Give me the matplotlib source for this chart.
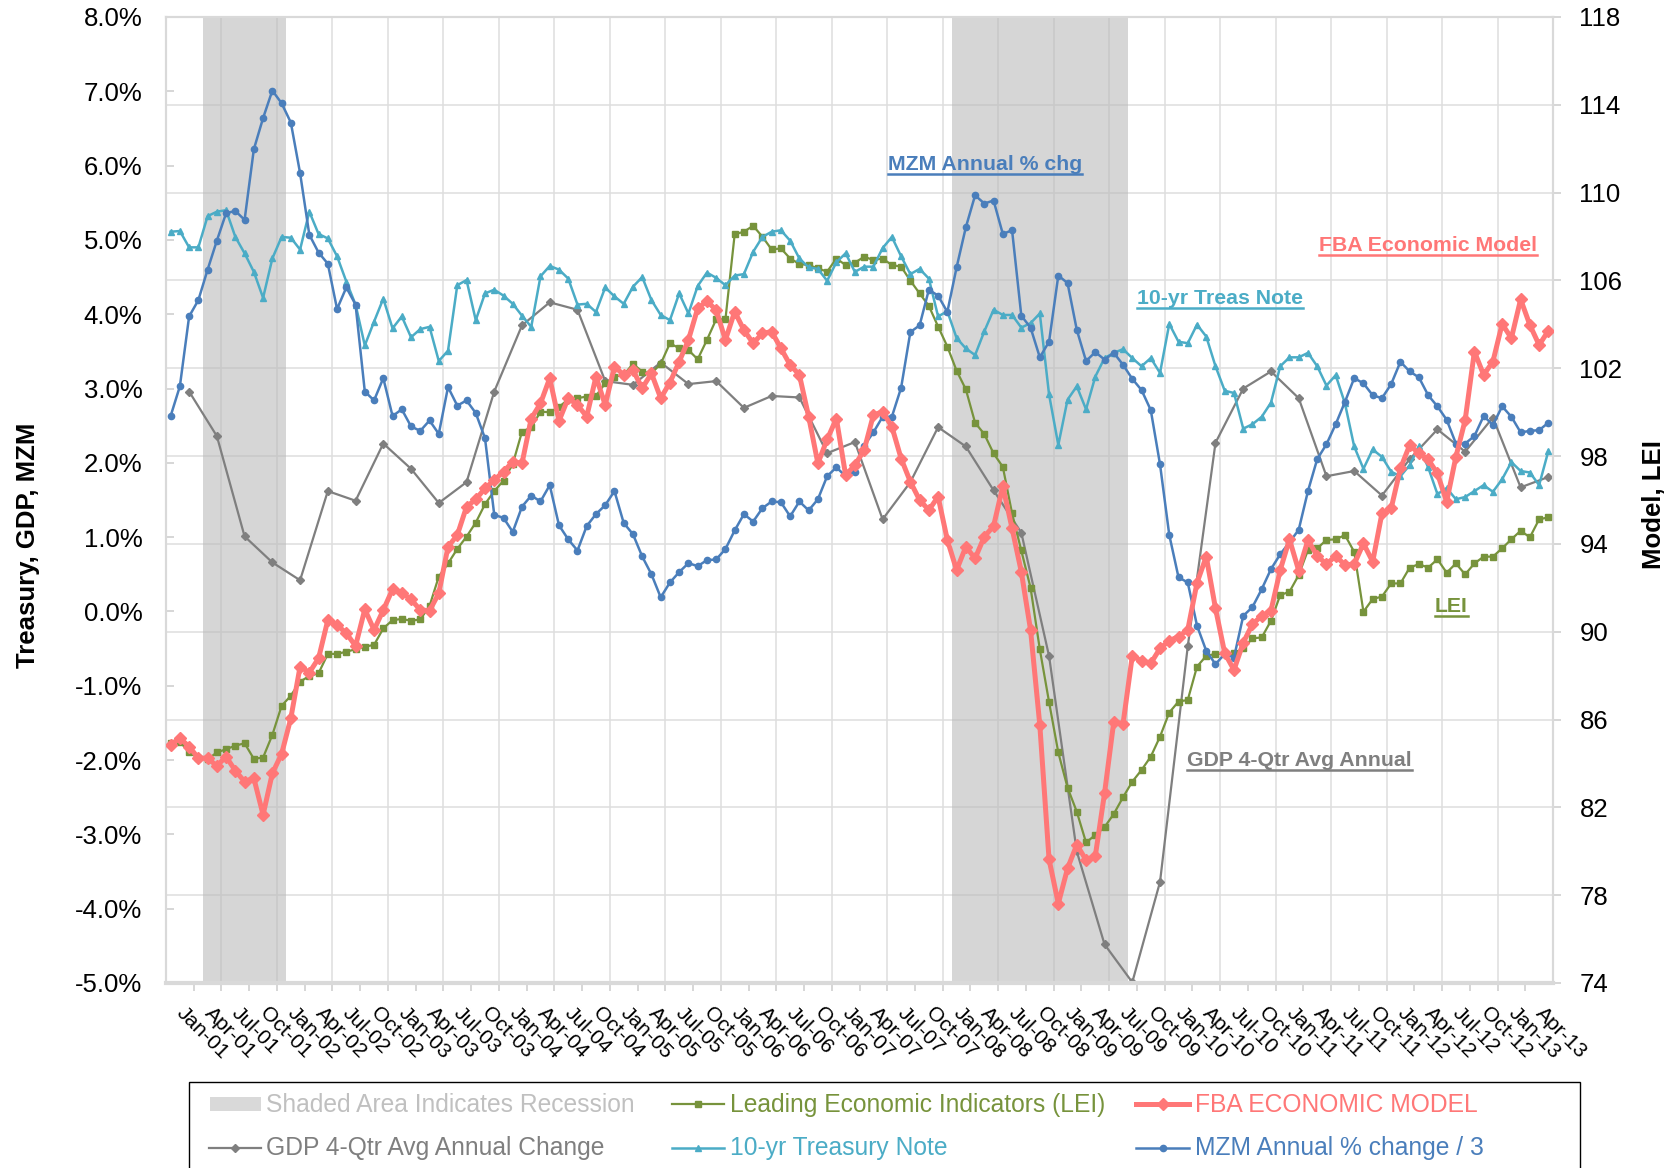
"""
 FBA economic model vs. LEI, GDP, 10-yr treasury and MZM (monthly, Dec-00 .. May-13)
"""
import numpy as np
import pandas as pd
import matplotlib
matplotlib.use("Agg")
import matplotlib.pyplot as plt
from matplotlib.lines import Line2D
from matplotlib.patches import Rectangle
from matplotlib.ticker import FormatStrFormatter

plt.rcParams['font.family'] = ['Liberation Sans', 'DejaVu Sans']
plt.rcParams['axes.unicode_minus'] = False

# monthly categories of the chart
months = pd.date_range("2000-12-01", periods=150, freq="MS").strftime("%b-%y").tolist()

# shaded recession months (first, last) as drawn on the chart
recessions = [("Apr-01", "Dec-01"), ("Jan-08", "Jul-09")]

# left axis (%)
mzm = [
    2.63, 3.03, 3.97, 4.19, 4.60, 4.99, 5.36, 5.39, 5.27, 6.22,
    6.64, 7.01, 6.84, 6.58, 5.90, 5.07, 4.83, 4.68, 4.07, 4.36,
    4.13, 2.96, 2.84, 3.14, 2.63, 2.72, 2.49, 2.43, 2.57, 2.39,
    3.02, 2.77, 2.84, 2.67, 2.33, 1.30, 1.26, 1.07, 1.41, 1.56,
    1.48, 1.70, 1.16, 0.97, 0.82, 1.15, 1.31, 1.43, 1.62, 1.19,
    1.04, 0.74, 0.50, 0.19, 0.39, 0.53, 0.65, 0.61, 0.69, 0.70,
    0.84, 1.09, 1.31, 1.21, 1.39, 1.48, 1.47, 1.28, 1.48, 1.36,
    1.51, 1.82, 1.94, 1.82, 1.88, 2.23, 2.41, 2.62, 2.62, 3.01,
    3.76, 3.85, 4.33, 4.25, 4.03, 4.63, 5.17, 5.60, 5.49, 5.53,
    5.08, 5.13, 3.98, 3.82, 3.42, 3.63, 4.52, 4.42, 3.79, 3.37,
    3.49, 3.39, 3.48, 3.32, 3.13, 2.98, 2.71, 1.98, 1.03, 0.46,
    0.39, -0.19, -0.53, -0.71, -0.57, -0.62, -0.06, 0.06, 0.30, 0.57,
    0.77, 0.93, 1.10, 1.62, 2.05, 2.25, 2.52, 2.82, 3.14, 3.07,
    2.91, 2.87, 3.06, 3.36, 3.23, 3.15, 2.91, 2.76, 2.58, 2.26,
    2.26, 2.36, 2.63, 2.51, 2.76, 2.62, 2.41, 2.43, 2.44, 2.54,
]

treas10 = [
    5.11, 5.12, 4.90, 4.90, 5.32, 5.38, 5.40, 5.04, 4.82, 4.57,
    4.22, 4.75, 5.04, 5.03, 4.87, 5.38, 5.08, 5.02, 4.78, 4.44,
    4.13, 3.58, 3.90, 4.21, 3.81, 3.97, 3.69, 3.80, 3.83, 3.37,
    3.51, 4.39, 4.46, 3.92, 4.28, 4.33, 4.25, 4.14, 3.98, 3.83,
    4.51, 4.65, 4.60, 4.48, 4.13, 4.14, 4.03, 4.36, 4.24, 4.14,
    4.37, 4.50, 4.19, 3.99, 3.92, 4.28, 4.01, 4.38, 4.56, 4.49,
    4.39, 4.52, 4.54, 4.84, 5.04, 5.11, 5.13, 4.99, 4.75, 4.63,
    4.61, 4.45, 4.70, 4.82, 4.57, 4.64, 4.64, 4.89, 5.04, 4.78,
    4.54, 4.61, 4.48, 3.97, 4.04, 3.68, 3.54, 3.45, 3.77, 4.06,
    3.99, 3.99, 3.82, 3.88, 4.01, 2.92, 2.24, 2.85, 3.03, 2.72,
    3.16, 3.41, 3.48, 3.53, 3.41, 3.30, 3.41, 3.21, 3.87, 3.63,
    3.61, 3.86, 3.70, 3.30, 2.97, 2.94, 2.46, 2.52, 2.62, 2.81,
    3.30, 3.42, 3.42, 3.48, 3.30, 3.04, 3.18, 2.80, 2.22, 1.92,
    2.18, 2.08, 1.88, 1.82, 1.97, 2.22, 1.94, 1.58, 1.66, 1.51,
    1.54, 1.62, 1.70, 1.61, 1.78, 2.01, 1.89, 1.87, 1.70, 2.16,
]

# GDP is quarterly (Feb, May, Aug, Nov)
gdp_months = months[2::3]
gdp = [
    2.96, 2.36, 1.01, 0.66, 0.42, 1.62, 1.49, 2.26, 1.92, 1.46,
    1.74, 2.96, 3.85, 4.16, 4.06, 3.10, 3.05, 3.35, 3.06, 3.10,
    2.74, 2.90, 2.88, 2.13, 2.28, 1.24, 1.74, 2.48, 2.22, 1.63,
    1.06, -0.60, -3.23, -4.48, -4.99, -3.64, -0.47, 2.27, 3.00, 3.23,
    2.87, 1.82, 1.89, 1.56, 2.05, 2.45, 2.15, 2.61, 1.67, 1.81,
]

# right axis (index)
lei = [
    84.92, 85.00, 84.50, 84.24, 84.19, 84.50, 84.65, 84.81, 84.92, 84.21,
    84.27, 85.30, 86.62, 87.09, 87.73, 87.98, 88.11, 88.99, 88.99, 89.09,
    89.20, 89.32, 89.40, 90.15, 90.53, 90.58, 90.50, 90.56, 91.17, 92.51,
    93.11, 93.77, 94.33, 94.97, 95.81, 96.41, 96.88, 97.64, 99.11, 99.31,
    100.02, 100.00, 100.23, 100.59, 100.64, 100.71, 100.74, 101.32, 101.62, 101.70,
    102.20, 101.85, 101.77, 102.20, 103.14, 102.91, 102.83, 102.41, 103.29, 104.23,
    104.23, 108.10, 108.22, 108.49, 107.99, 107.41, 107.46, 107.00, 106.75, 106.70,
    106.55, 106.40, 107.00, 106.70, 106.81, 107.08, 106.93, 107.00, 106.70, 106.63,
    105.99, 105.41, 104.84, 103.90, 102.99, 101.89, 101.04, 99.52, 99.00, 98.12,
    97.51, 95.39, 93.70, 92.00, 89.20, 86.80, 84.50, 82.90, 81.80, 80.40,
    80.74, 81.10, 81.70, 82.46, 83.17, 83.70, 84.31, 85.22, 86.32, 86.82,
    86.89, 88.41, 88.90, 88.99, 88.99, 89.02, 89.24, 89.70, 89.74, 90.50,
    91.67, 91.82, 92.58, 93.72, 93.80, 94.18, 94.21, 94.40, 93.64, 90.91,
    91.49, 91.60, 92.20, 92.20, 92.92, 93.08, 92.92, 93.30, 92.69, 93.11,
    92.61, 93.11, 93.42, 93.42, 93.80, 94.21, 94.60, 94.30, 95.12, 95.21,
]

fba = [
    84.84, 85.15, 84.77, 84.24, 84.24, 83.89, 84.31, 83.67, 83.17, 83.33,
    81.66, 83.55, 84.43, 86.06, 88.41, 88.14, 88.79, 90.53, 90.31, 89.93,
    89.35, 91.02, 90.08, 90.99, 91.93, 91.78, 91.47, 90.99, 90.96, 91.75,
    93.87, 94.40, 95.69, 96.03, 96.53, 96.91, 97.29, 97.74, 97.67, 99.71,
    100.40, 101.55, 99.60, 100.64, 100.33, 99.80, 101.62, 100.33, 102.08, 101.70,
    101.92, 101.09, 101.77, 100.64, 101.35, 102.30, 103.29, 104.73, 105.06, 104.65,
    103.29, 104.58, 103.74, 103.14, 103.59, 103.67, 102.91, 102.15, 101.70, 99.80,
    97.67, 98.76, 99.71, 97.13, 97.59, 98.27, 99.87, 100.02, 99.34, 97.89,
    96.83, 96.00, 95.54, 96.15, 94.18, 92.81, 93.87, 93.34, 94.33, 94.81,
    96.63, 94.71, 92.73, 90.08, 85.75, 79.63, 77.62, 79.22, 80.30, 79.60,
    79.78, 82.64, 85.91, 85.80, 88.90, 88.68, 88.56, 89.24, 89.59, 89.78,
    90.08, 92.23, 93.42, 91.06, 89.02, 88.26, 89.50, 90.35, 90.72, 90.96,
    92.81, 94.21, 92.78, 94.18, 93.45, 93.08, 93.45, 93.04, 93.08, 94.02,
    93.19, 95.39, 95.62, 97.44, 98.50, 98.12, 97.85, 97.21, 95.92, 97.97,
    99.64, 102.76, 101.70, 102.30, 104.02, 103.37, 105.14, 103.97, 103.06, 103.71,
]

BLUE = '#4a7ebb'
CYAN = '#4bacc6'
GREEN = '#77933c'
GREY = '#7f7f7f'
RED = '#ff7777'
GRID = '#dedede'
AXIS = '#d9d9d9'

W, H = 1676, 1168
fig = plt.figure(figsize=(W / 100, H / 100), dpi=100)
ax = fig.add_axes([166 / W, 1 - 983 / H, 1387 / W, 966 / H])
ax2 = ax.twinx()
ax.set_zorder(ax2.get_zorder() + 1)
ax.patch.set_visible(False)

x = np.arange(len(months))

# background: gridlines and recession shading live on the right axis
for b in range(6, len(months), 6):
    ax2.axvline(b - 0.5, color=GRID, lw=1.1, zorder=0.5)
ax2.set_yticks(np.arange(74, 119, 4))
ax2.yaxis.grid(True, color=GRID, lw=1.1)
ax2.set_axisbelow(True)
for start, end in recessions:
    ax2.axvspan(months.index(start) - 0.5, months.index(end) + 0.5,
                color='#bbbbbb', alpha=0.6, lw=0, zorder=1)

# series
gdp_x = [months.index(m) for m in gdp_months]
ax.plot(gdp_x, gdp, color=GREY, lw=1.6, marker='D', ms=4, zorder=2)
ax.plot(x, lei, transform=ax2.transData, color=GREEN, lw=1.6, marker='s', ms=3.8, zorder=3)
ax.plot(x, treas10, color=CYAN, lw=1.8, marker='^', ms=5, zorder=4)
ax.plot(x, mzm, color=BLUE, lw=1.8, marker='o', ms=4.5, zorder=5)
ax.plot(x, fba, transform=ax2.transData, color=RED, lw=3.6, marker='D', ms=6.5, zorder=6)

ax.set_xlim(-0.5, len(months) - 0.5)
ax.set_ylim(-5, 8)
ax2.set_ylim(74, 118)

# axes styling
for a in (ax, ax2):
    for s in a.spines.values():
        s.set_color(AXIS)
        s.set_linewidth(1.5)
ax.spines['bottom'].set_linewidth(3)

ax.set_yticks(np.arange(-5, 9, 1))
ax.yaxis.set_major_formatter(FormatStrFormatter('%.1f%%'))
ax.tick_params(axis='y', direction='in', length=6, width=1.1, color='#cccccc',
               labelsize=18.5, pad=17)
ax2.tick_params(axis='y', direction='out', length=6, width=1.1, color='#cccccc',
                labelsize=18.5, pad=13)

ax.set_xticks(x[1::3] + 0.7, months[1::3], rotation=-45, ha='left', va='top',
              rotation_mode='anchor')
ax.tick_params(axis='x', which='major', length=0, pad=15, labelsize=15.2)
ax.set_xticks(np.arange(3, len(months) - 1, 3) - 0.5, minor=True)
ax.tick_params(axis='x', which='minor', direction='out', length=6, width=1.1, color='#cccccc')

ax.set_ylabel('Treasury, GDP, MZM', fontsize=18.5, fontweight='bold')
ax.yaxis.set_label_coords(-0.091, 0.453)
ax2.set_ylabel('Model, LEI', fontsize=18.5, fontweight='bold', rotation=90)
ax2.yaxis.set_label_coords(1.064, 0.495)

# in-chart labels, underlined
notes = [
    ('MZM Annual % chg', 0.5206, 0.8416, BLUE),
    ('FBA Economic Model', 0.8310, 0.7578, RED),
    ('10-yr Treas Note', 0.7004, 0.7029, CYAN),
    ('LEI', 0.9149, 0.3841, GREEN),
    ('GDP 4-Qtr Avg Annual', 0.7361, 0.2246, GREY),
]
note_texts = []
for s, nx, ny, c in notes:
    t = ax.text(nx, ny, s, transform=ax.transAxes, color=c, fontsize=15.3,
                fontweight='bold', ha='left', va='baseline', zorder=10)
    note_texts.append((t, nx, ny, c))

fig.canvas.draw()
renderer = fig.canvas.get_renderer()
inv = fig.transFigure.inverted()
for t, nx, ny, c in note_texts:
    bb = t.get_window_extent(renderer)
    base = ax.transAxes.transform((nx, ny))[1] - 4
    (x0, y0), (x1, y1) = inv.transform([(bb.x0, base), (bb.x1, base)])
    fig.add_artist(Line2D([x0, x1], [y0, y1], color=c, lw=1.8))

# legend, drawn by hand below the plot
def fx(px):
    return px / W


def fy(py):
    return 1 - py / H


fig.add_artist(Rectangle((fx(189), fy(1200)), fx(1580) - fx(189), fy(1082) - fy(1200),
                         facecolor='white', edgecolor='black', lw=1.0))

legend_rows = [
    # (handle x0, x1, text x, row y, text baseline, label, colour, marker, lw, ms)
    (210, 261, 266, 1104, 1112, 'Shaded Area Indicates Recession', '#c0c0c0', None, 0, 0),
    (672, 724, 730, 1104, 1112, 'Leading Economic Indicators (LEI)', GREEN, 's', 1.6, 3.8),
    (1136, 1189, 1195, 1104, 1112, 'FBA ECONOMIC MODEL', RED, 'D', 3.6, 6.5),
    (209, 261, 266, 1148, 1155, 'GDP 4-Qtr Avg Annual Change', GREY, 'D', 1.6, 4),
    (672, 724, 730, 1148, 1155, '10-yr Treasury Note', CYAN, '^', 1.8, 5),
    (1136, 1189, 1195, 1148, 1155, 'MZM Annual % change / 3', BLUE, 'o', 1.8, 4.5),
]
for hx0, hx1, tx, ry, tb, label, c, mk, lw, ms in legend_rows:
    if mk is None:
        fig.add_artist(Rectangle((fx(hx0), fy(ry + 7)), fx(hx1) - fx(hx0), fy(ry - 7) - fy(ry + 7),
                                 facecolor='#d9d9d9', edgecolor='none'))
    else:
        fig.add_artist(Line2D([fx(hx0), fx(hx1)], [fy(ry), fy(ry)], color=c, lw=lw))
        fig.add_artist(Line2D([fx((hx0 + hx1) / 2)], [fy(ry)], color=c, marker=mk, ms=ms, lw=0))
    fig.text(fx(tx), fy(tb), label, color=c, fontsize=17.7, ha='left', va='baseline')

fig.savefig('out.png', dpi=100)
